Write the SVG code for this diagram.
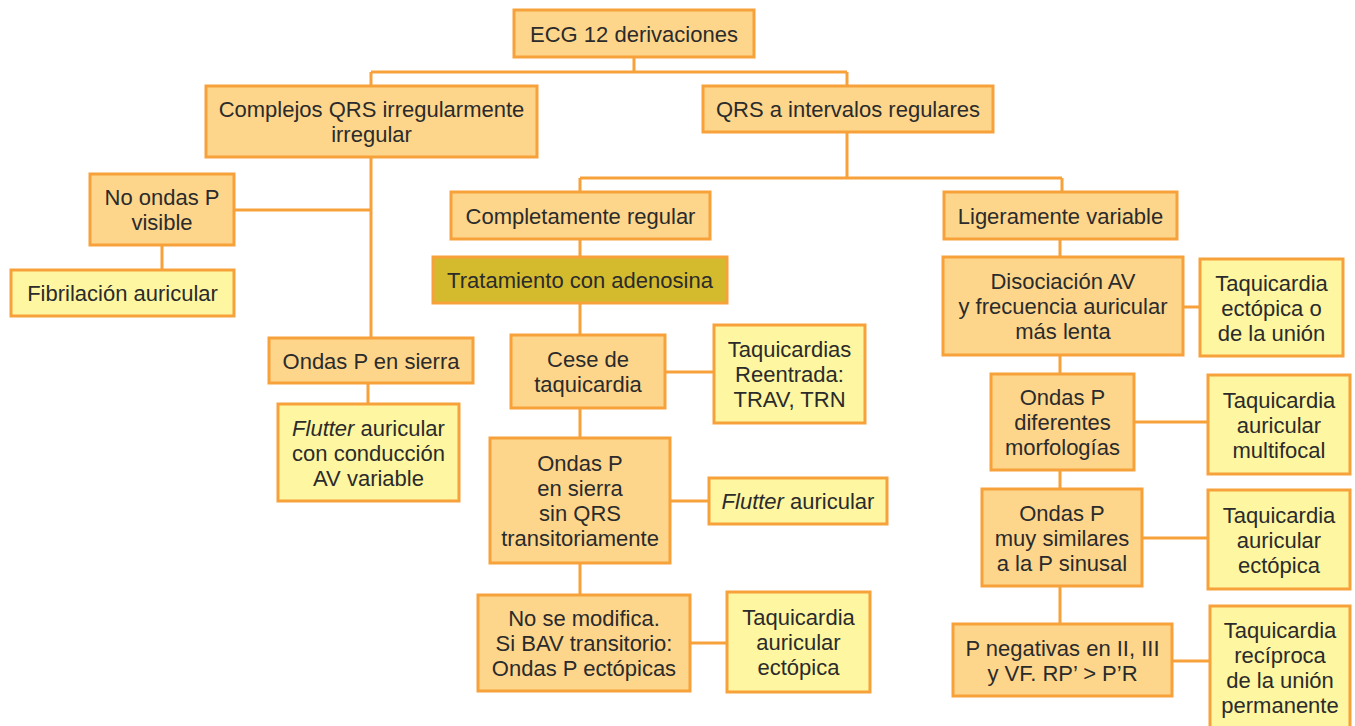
<svg xmlns="http://www.w3.org/2000/svg" width="1355" height="726" viewBox="0 0 1355 726">
<style>
.o{fill:#FDD68B;stroke:#F7A13A;stroke-width:3}
.y{fill:#FEF6A0;stroke:#F7A13A;stroke-width:3}
.a{fill:#D4BB2E;stroke:#F7A13A;stroke-width:3}
.c{fill:none;stroke:#F7A13A;stroke-width:3}
text{font-family:"Liberation Sans",Arial,sans-serif;font-size:22px;fill:#2b2b2b;text-anchor:middle}
.i{font-style:italic}
</style>
<rect width="1355" height="726" fill="#fff"/>
<g id="connectors">
<path class="c" d="M634 57V72M371 72H847M371 72V86M847 72V86"/>
<path class="c" d="M371 157V338M234 210H371"/>
<path class="c" d="M162 245V270"/>
<path class="c" d="M368 383V404"/>
<path class="c" d="M847 132V178M580 178H1062M580 178V192M1062 178V192"/>
<path class="c" d="M580 239V595"/>
<path class="c" d="M665 372H714M670 501H709M690 643H727"/>
<path class="c" d="M1060 239V624"/>
<path class="c" d="M1183 307H1200M1134 422H1208M1142 538H1208M1172 661H1210"/>
</g>
<g id="n1"><rect class="o" x="514" y="10" width="240" height="47"/><text x="634" y="41.5">ECG 12 derivaciones</text></g>
<g id="n2"><rect class="o" x="206" y="86" width="331" height="71"/><text x="371.5" y="117">Complejos QRS irregularmente</text><text x="371.5" y="142">irregular</text></g>
<g id="n3"><rect class="o" x="703" y="86" width="290" height="46"/><text x="848" y="117">QRS a intervalos regulares</text></g>
<g id="n4"><rect class="o" x="451" y="192" width="259" height="47"/><text x="580.5" y="223.5">Completamente regular</text></g>
<g id="n5"><rect class="o" x="944" y="192" width="233" height="47"/><text x="1060.5" y="223.5">Ligeramente variable</text></g>
<g id="n6"><rect class="o" x="90" y="174" width="144" height="71"/><text x="162" y="205">No ondas P</text><text x="162" y="230">visible</text></g>
<g id="n7"><rect class="y" x="11" y="270" width="223" height="46"/><text x="122.5" y="301">Fibrilación auricular</text></g>
<g id="n8"><rect class="o" x="269" y="338" width="204" height="45"/><text x="371" y="368.5">Ondas P en sierra</text></g>
<g id="n9"><rect class="y" x="278" y="404" width="181" height="97"/><text x="368.5" y="435.5"><tspan class="i">Flutter</tspan> auricular</text><text x="368.5" y="460.5">con conducción</text><text x="368.5" y="485.5">AV variable</text></g>
<g id="n10"><rect class="a" x="433" y="257" width="294" height="46"/><text x="580" y="288">Tratamiento con adenosina</text></g>
<g id="n11"><rect class="o" x="511" y="335" width="154" height="73"/><text x="588" y="367">Cese de</text><text x="588" y="392">taquicardia</text></g>
<g id="n12"><rect class="y" x="714" y="325" width="151" height="98"/><text x="789.5" y="357">Taquicardias</text><text x="789.5" y="382">Reentrada:</text><text x="789.5" y="407">TRAV, TRN</text></g>
<g id="n13"><rect class="o" x="490" y="438" width="180" height="125"/><text x="580" y="471">Ondas P</text><text x="580" y="496">en sierra</text><text x="580" y="521">sin QRS</text><text x="580" y="546">transitoriamente</text></g>
<g id="n14"><rect class="y" x="709" y="478" width="178" height="46"/><text x="798" y="509"><tspan class="i">Flutter</tspan> auricular</text></g>
<g id="n15"><rect class="o" x="478" y="595" width="212" height="96"/><text x="584" y="626">No se modifica.</text><text x="584" y="651">Si BAV transitorio:</text><text x="584" y="676">Ondas P ectópicas</text></g>
<g id="n16"><rect class="y" x="727" y="592" width="143" height="100"/><text x="798.5" y="625">Taquicardia</text><text x="798.5" y="650">auricular</text><text x="798.5" y="675">ectópica</text></g>
<g id="n17"><rect class="o" x="943" y="257" width="240" height="98"/><text x="1063" y="289">Disociación AV</text><text x="1063" y="314">y frecuencia auricular</text><text x="1063" y="339">más lenta</text></g>
<g id="n18"><rect class="y" x="1200" y="259" width="143" height="97"/><text x="1271.5" y="290.5">Taquicardia</text><text x="1271.5" y="315.5">ectópica o</text><text x="1271.5" y="340.5">de la unión</text></g>
<g id="n19"><rect class="o" x="991" y="374" width="143" height="96"/><text x="1062.5" y="405">Ondas P</text><text x="1062.5" y="430">diferentes</text><text x="1062.5" y="455">morfologías</text></g>
<g id="n20"><rect class="y" x="1208" y="375" width="142" height="99"/><text x="1279" y="407.5">Taquicardia</text><text x="1279" y="432.5">auricular</text><text x="1279" y="457.5">multifocal</text></g>
<g id="n21"><rect class="o" x="982" y="489" width="160" height="97"/><text x="1062" y="520.5">Ondas P</text><text x="1062" y="545.5">muy similares</text><text x="1062" y="570.5">a la P sinusal</text></g>
<g id="n22"><rect class="y" x="1208" y="490" width="142" height="99"/><text x="1279" y="522.5">Taquicardia</text><text x="1279" y="547.5">auricular</text><text x="1279" y="572.5">ectópica</text></g>
<g id="n23"><rect class="o" x="953" y="624" width="219" height="72"/><text x="1062.5" y="655.5">P negativas en II, III</text><text x="1062.5" y="680.5">y VF. RP’ &gt; P’R</text></g>
<g id="n24"><rect class="y" x="1210" y="606" width="140" height="122"/><text x="1280" y="637.5">Taquicardia</text><text x="1280" y="662.5">recíproca</text><text x="1280" y="687.5">de la unión</text><text x="1280" y="712.5">permanente</text></g>
</svg>
